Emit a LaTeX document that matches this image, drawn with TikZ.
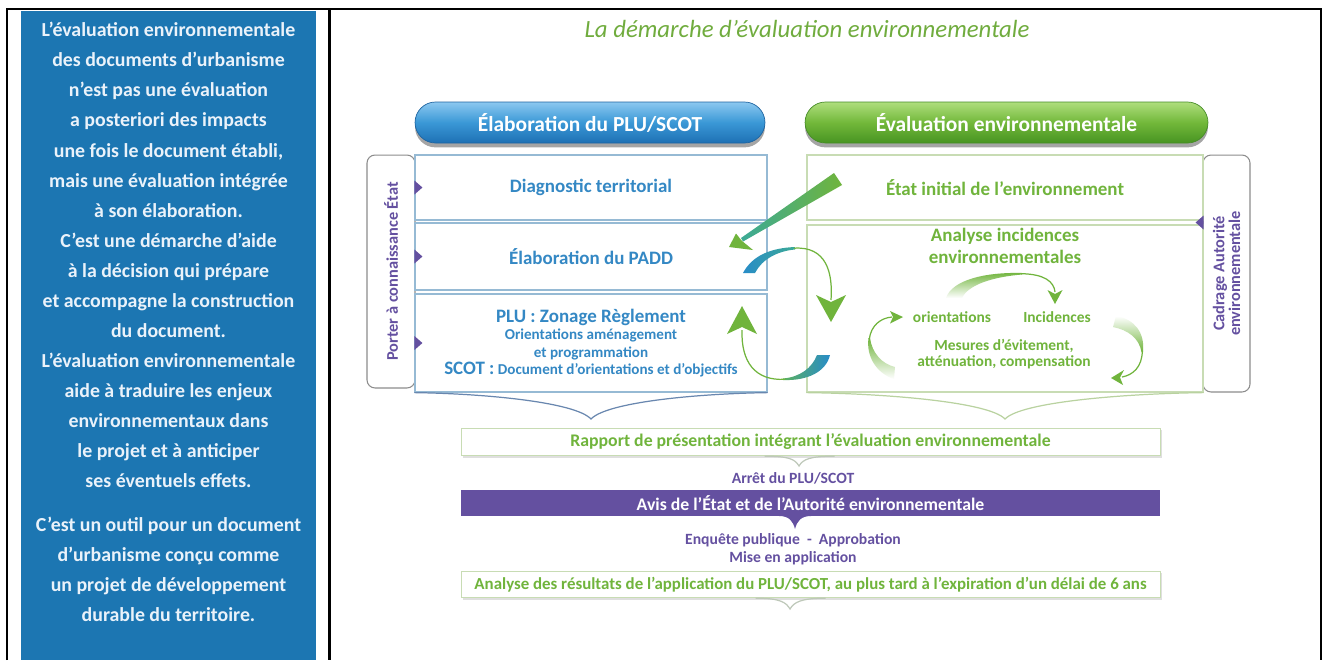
\documentclass[tikz,border=0pt]{standalone}
\usepackage{fontspec}
\setmainfont{Carlito}
\usetikzlibrary{calc,shadows}

% colours
\definecolor{panelblue}{RGB}{28,118,178}
\definecolor{paneltext}{RGB}{234,242,250}
\definecolor{titlegreen}{RGB}{112,172,62}
\definecolor{elabblue}{RGB}{52,136,196}
\definecolor{evalgreen}{RGB}{112,180,60}
\definecolor{boxblue}{RGB}{150,186,212}
\definecolor{boxgreen}{RGB}{200,220,180}
\definecolor{braceblue}{RGB}{105,135,175}
\definecolor{bracegreen}{RGB}{185,210,160}
\definecolor{bracegrey}{RGB}{190,200,185}
\definecolor{stateviolet}{RGB}{100,80,160}
\definecolor{arrowblue}{RGB}{40,140,200}
\definecolor{arrowteal}{RGB}{60,170,150}

\tikzset{
  pill/.style={rounded corners=0.41cm, minimum height=0.82cm, text=white,
    font=\fontsize{12.2}{14}\selectfont\bfseries,
    drop shadow={shadow xshift=0pt, shadow yshift=-2.5pt, opacity=0.5, fill=black!70}},
  stepbox/.style={draw=boxblue, fill=white, line width=0.7pt, minimum width=7.04cm,
    text=elabblue, align=center, font=\fontsize{10.8}{12}\selectfont\bfseries},
  evalbox/.style={draw=boxgreen, fill=white, line width=0.7pt, minimum width=7.92cm,
    text=evalgreen, align=center, font=\fontsize{10.8}{12.5}\selectfont\bfseries},
  sidetab/.style={draw=black!45, fill=white, rounded corners=0.16cm, rotate=90, line width=0.6pt,
    text=stateviolet, align=center, font=\fontsize{9.3}{8.9}\selectfont\bfseries},
  band/.style={minimum width=13.98cm, minimum height=0.53cm, align=center,
    font=\fontsize{10.1}{11}\selectfont\bfseries},
  softshadow/.style={drop shadow={shadow xshift=1pt, shadow yshift=-1pt, opacity=0.25, fill=black!50}},
  stage/.style={text=stateviolet, align=center, font=\fontsize{8.9}{10.2}\selectfont\bfseries},
  cycletext/.style={text=evalgreen, align=center, font=\fontsize{8.8}{9}\selectfont\bfseries},
  paneltxt/.style={text=paneltext, align=center, font=\fontsize{11.3}{17.1}\selectfont\bfseries},
  thinarc/.style={evalgreen, line width=0.7pt},
}

\begin{document}
\begin{tikzpicture}[x=0.02cm, y=-0.02cm]
  \useasboundingbox (0,0) rectangle (1327,660);

  % frame of the table
  \draw[line width=1.4pt] (7,660) -- (7,9) -- (1321,9) -- (1321,660);
  \draw[line width=1.4pt] (329.5,9) -- (329.5,660);

  % left cell: blue panel
  \fill[panelblue] (21,10.5) rectangle (316,660);
  \node[paneltxt] (intro) at (168.5,255)
    {L’évaluation environnementale\\des documents d’urbanisme\\n’est pas une évaluation\\a posteriori des impacts\\
     une fois le document établi,\\mais une évaluation intégrée\\à son élaboration.\\C’est une démarche d’aide\\
     à la décision qui prépare\\et accompagne la construction\\du document.\\L’évaluation environnementale\\
     aide à traduire les enjeux\\environnementaux dans\\le projet et à anticiper\\ses éventuels effets.};
  \node[paneltxt] (outil) at (168.5,569)
    {C’est un outil pour un document\\d’urbanisme conçu comme\\un projet de développement\\durable du territoire.};

  % right cell: title and headers
  \node[text=titlegreen, font=\fontsize{14.1}{16}\selectfont\itshape, anchor=base] (title) at (807,37)
    {La démarche d’évaluation environnementale};
  \node[pill, minimum width=7cm, draw={rgb,255:red,30;green,100;blue,160},
        top color={rgb,255:red,140;green,200;blue,240}, bottom color={rgb,255:red,30;green,112;blue,180},
        middle color={rgb,255:red,58;green,152;blue,214}] (elab) at (590,122.5) {Élaboration du PLU/SCOT};
  \node[pill, minimum width=8.06cm, draw={rgb,255:red,70;green,140;blue,40},
        top color={rgb,255:red,175;green,222;blue,125}, bottom color={rgb,255:red,72;green,148;blue,34},
        middle color={rgb,255:red,114;green,184;blue,58}] (eval) at (1006.5,122.5) {Évaluation environnementale};

  % side tabs
  \node[sidetab, minimum width=4.66cm, minimum height=0.96cm] (pac) at (391,271.5) {Porter à connaissance État};
  \node[sidetab, minimum width=4.74cm, minimum height=0.94cm] (cadrage) at (1226.5,273.5) {Cadrage Autorité\\environnementale};

  % left column: steps of the PLU/SCOT
  \node[stepbox, minimum height=1.3cm] (diag) at (591,187.5) {Diagnostic territorial};
  \node[stepbox, minimum height=1.34cm] (padd) at (591,256.5) {Élaboration du PADD};
  \node[stepbox, minimum height=1.96cm, font=\fontsize{8.6}{9.9}\selectfont\bfseries] (plu) at (591,343)
    {{\fontsize{10.8}{12}\selectfont PLU : Zonage Règlement}\\Orientations aménagement\\et programmation\\
     {\fontsize{10.8}{12}\selectfont SCOT :} Document d’orientations et d’objectifs};

  % right column: environmental assessment
  \node[evalbox, minimum height=1.3cm] (etat) at (1005,187.5) {État initial de l’environnement};
  \node[evalbox, minimum height=3.34cm] (incid) at (1005,308.5) {};
  \node[text=evalgreen, align=center, font=\fontsize{10.8}{12.5}\selectfont\bfseries] (incidtitle) at (1005,246)
    {Analyse incidences\\environnementales};
  \node[cycletext] (orient) at (952,317) {orientations};
  \node[cycletext] (incidences) at (1057,317) {Incidences};
  \node[cycletext] (mesures) at (1004,354) {Mesures d’évitement,\\atténuation, compensation};

  % markers of the tabs
  \foreach \b in {diag,padd,plu}
    \fill[stateviolet] (\b.west) ++(0,-7) -- ++(8,7) -- ++(-8,7) -- cycle;
  \fill[stateviolet] ($(etat.south east)!0.5!(incid.north east)$) ++(0,-7) -- ++(-8,7) -- ++(8,7) -- cycle;

  % big flow arrows between the two columns
  \coordinate (etattail) at (838,179);
  \coordinate (paddtip) at (729,247);
  \shade[left color=arrowteal, right color=evalgreen] (834,173) -- (842,185) -- (743,241.5) -- (741,238) -- cycle;
  \fill[evalgreen] (paddtip) -- (736,233.5) -- (741.5,240.5) -- (753,250) -- cycle;

  \coordinate (incidtip) at (831,322);
  \shade[left color=arrowblue, right color=arrowteal] (743,273) .. controls (752,256) and (770,248) .. (795,247)
    -- (795,249.5) .. controls (778,251) and (762,259) .. (755,273) -- cycle;
  \draw[thinarc] (794,248.2) .. controls (826,246) and (833,272) .. (831,300);
  \fill[evalgreen] (incidtip) -- (816,295) -- (831,302) -- (846,295) -- cycle;

  \coordinate (plutip) at (742,306);
  \shade[left color=evalgreen!60!arrowteal, right color=arrowblue] (817,355) -- (830,355)
    .. controls (826,372) and (807,381) .. (783,380) -- (783,378.5) .. controls (800,377) and (812,368) .. (817,355) -- cycle;
  \draw[thinarc] (785,379.3) .. controls (755,381) and (741,362) .. (742,330);
  \fill[evalgreen] (plutip) -- (757,334) -- (742,327) -- (727,334) -- cycle;

  % small cycle inside the analysis box
  \shade[top color=evalgreen, bottom color=white] (946,298) .. controls (952,280) and (985,272) .. (1022,273)
    -- (1022,274.5) .. controls (992,277) and (968,285) .. (962,298) -- cycle;
  \draw[thinarc] (1021,273.7) .. controls (1045,274) and (1054,282) .. (1055,292);
  \fill[evalgreen] (1055,304) -- (1047.5,290) -- (1055,294) -- (1062.5,290) -- cycle;

  \shade[top color=white, bottom color=evalgreen] (1116,316) .. controls (1134,319) and (1145,332) .. (1143,352)
    -- (1141.5,352) .. controls (1139,338) and (1128,330) .. (1113,327) -- cycle;
  \draw[thinarc] (1142.3,351) .. controls (1142,367) and (1133,375) .. (1122,377);
  \fill[evalgreen] (1111,378) -- (1124,370) -- (1120,377.5) -- (1123,385) -- cycle;

  \shade[top color=evalgreen, bottom color=white] (894,379) .. controls (876,373) and (866,356) .. (868.5,338)
    -- (870,338) .. controls (872,353) and (882,364) .. (895,367) -- cycle;
  \draw[thinarc] (869.3,339) .. controls (871,326) and (880,318) .. (892,317);
  \fill[evalgreen] (903,317) -- (890,311) -- (893,317) -- (890,323.5) -- cycle;

  % braces below the columns
  \coordinate (plubrace) at (591,419);
  \coordinate (incidbrace) at (1005,419);
  \draw[braceblue, line width=0.7pt] (plu.south west) .. controls +(70,1) and +(-16,-17) .. (plubrace)
    .. controls +(16,-17) and +(-70,1) .. (plu.south east);
  \draw[bracegreen, line width=0.7pt] (incid.south west) .. controls +(80,1) and +(-16,-17) .. (incidbrace)
    .. controls +(16,-17) and +(-80,1) .. (incid.south east);

  % procedure after the assessment
  \node[band, draw=boxgreen, fill=white, text=evalgreen, softshadow] (rapport) at (810.5,442)
    {Rapport de présentation intégrant l’évaluation environnementale};
  \coordinate (rapporttip) at (799,466);
  \draw[bracegrey, line width=0.7pt] ($(rapport.south)+(-46,0)$) .. controls +(24,0) and +(-4,-7) .. (rapporttip)
    .. controls +(4,-7) and +(-24,0) .. ($(rapport.south)+(24,0)$);
  \node[stage] (arret) at (793,478) {Arrêt du PLU/SCOT};
  \node[band, fill=stateviolet, text=white] (avis) at (810.5,503) {Avis de l’État et de l’Autorité environnementale};
  \coordinate (avistip) at (795,529);
  \fill[stateviolet] (avistip) .. controls +(-2,-8) and +(10,0) .. (779,516) -- (811,516)
    .. controls +(-10,0) and +(2,-8) .. (avistip);
  \node[stage] (enquete) at (793,549) {Enquête publique \ - \ Approbation\\Mise en application};
  \node[band, draw=boxgreen, fill=white, text=evalgreen, softshadow, font=\fontsize{9.6}{10}\selectfont\bfseries]
    (bilan) at (810.5,584.5)
    {Analyse des résultats de l’application du PLU/SCOT, au plus tard à l’expiration d’un délai de 6 ans};
  \coordinate (bilantip) at (790,609);
  \draw[bracegrey, line width=0.7pt] ($(bilan.south)+(-55,0)$) .. controls +(24,0) and +(-4,-7) .. (bilantip)
    .. controls +(4,-7) and +(-24,0) .. ($(bilan.south)+(15,0)$);
\end{tikzpicture}
\end{document}
